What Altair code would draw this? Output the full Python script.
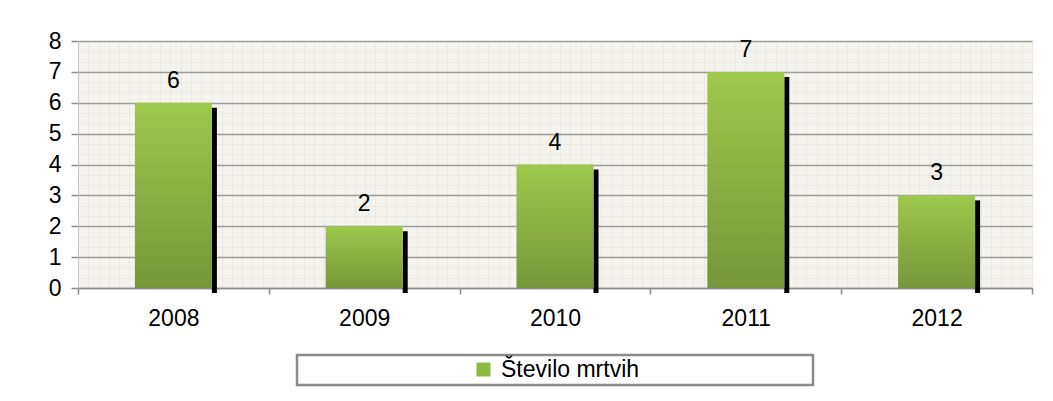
import altair as alt
import pandas as pd

# ---- data ----
years = ["2008", "2009", "2010", "2011", "2012"]
values = [6, 2, 4, 7, 3]
series_name = "Število mrtvih"
y_tick_values = [0, 1, 2, 3, 4, 5, 6, 7, 8]

df = pd.DataFrame({"leto": years, "vrednost": values, "serija": [series_name] * len(years)})

FONT = "Liberation Sans"
FS = 23
PAD = "\u2800"  # blank glyph used to widen the legend frame

# ---- fine background texture (minor grid) ----
minor = alt.Chart(df).mark_point(opacity=0).encode(
    x=alt.X("vrednost:Q", scale=alt.Scale(domain=[0, 93], nice=False, zero=False),
            axis=alt.Axis(orient="top", values=list(range(94)), grid=True, gridColor="#ebe9e3",
                          gridWidth=1, labels=False, ticks=False, domain=False, title=None)),
    y=alt.Y("vrednost:Q", scale=alt.Scale(domain=[0, 24], nice=False),
            axis=alt.Axis(orient="right", values=list(range(25)), grid=True, gridColor="#ebe9e3",
                          gridWidth=1, labels=False, ticks=False, domain=False, title=None)),
)

x_enc = alt.X(
    "leto:N", sort=years, title=None,
    scale=alt.Scale(paddingInner=0, paddingOuter=0),
    axis=alt.Axis(labelAngle=0, labelFont=FONT, labelFontSize=FS, labelColor="black",
                  labelPadding=13, tickSize=6, tickColor="#8c8c8c", tickWidth=1.5,
                  tickBand="extent", domainColor="#8c8c8c", domainWidth=1.5, grid=False),
)
y_enc = alt.Y(
    "vrednost:Q", title=None, scale=alt.Scale(domain=[0, 8], nice=False),
    axis=alt.Axis(values=y_tick_values, labelFont=FONT, labelFontSize=FS, labelColor="black",
                  labelPadding=10, tickSize=7, tickColor="#8c8c8c", tickWidth=1.5,
                  domainColor="#c4c4c4", domainWidth=1,
                  grid=True, gridColor="#9c9c9c", gridWidth=1.3),
)

base = alt.Chart(df)

shadow = base.mark_bar(color="black", width=5, xOffset=41, yOffset=5).encode(x=x_enc, y=y_enc)

bars = base.mark_bar(
    width=77,
    color=alt.Gradient(
        gradient="linear", x1=0, x2=0, y1=0, y2=1,
        stops=[alt.GradientStop(color="#9ec84b", offset=0),
               alt.GradientStop(color="#76963a", offset=1)],
    ),
).encode(x=x_enc, y=y_enc)

labels = base.mark_text(font=FONT, fontSize=FS, color="black", baseline="middle", dy=-22).encode(
    x=x_enc, y=y_enc, text=alt.Text("vrednost:Q")
)

legend_layer = base.mark_square(opacity=0).encode(
    x=x_enc, y=y_enc,
    color=alt.Color(
        "serija:N", scale=alt.Scale(range=["#8cb944"]),
        legend=alt.Legend(
            title=None, orient="none", legendX=219, legendY=314,
            symbolType="square", symbolSize=196, symbolOpacity=1, symbolStrokeWidth=0,
            symbolOffset=172, labelOffset=6,
            labelFont=FONT, labelFontSize=FS, labelColor="black", labelLimit=0,
            labelExpr="datum.label + '" + PAD * 10 + "'",
            strokeColor="#8c8c8c", padding=3, fillColor="white",
        ),
    ),
)

main = alt.layer(shadow, bars, labels, legend_layer)

chart = alt.layer(minor, main).resolve_scale(x="independent", y="independent").properties(
    width=954, height=247,
    autosize=alt.AutoSizeParams(type="none"),
    padding={"left": 70, "top": 33, "right": 13, "bottom": 100},
    background="white",
).configure_view(stroke=None, fill="#f4f3ee").configure_legend(strokeWidth=2.5)

chart.save("out.html", embed_options={"renderer": "svg", "actions": False})
